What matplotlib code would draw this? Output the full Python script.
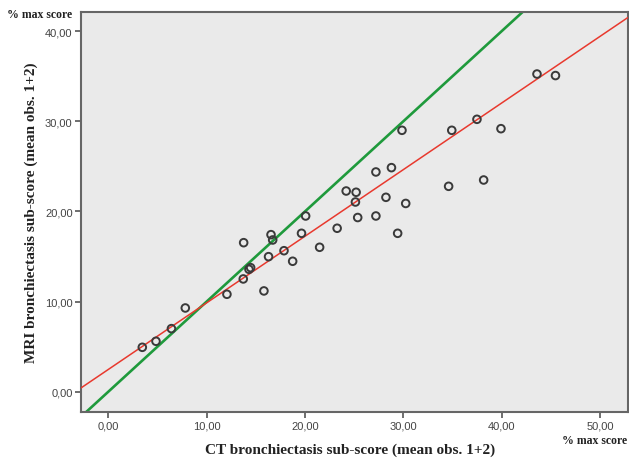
import numpy as np
import matplotlib
matplotlib.use("Agg")
import matplotlib.pyplot as plt

# === Data ===
ct_score = [3.46, 4.85, 6.42, 7.83, 12.06, 13.76, 13.72, 14.30, 14.47, 15.82,
            16.29, 16.54, 16.71, 17.86, 18.74, 19.64, 20.06, 21.48, 23.26, 24.18,
            25.19, 25.12, 25.35, 27.20, 27.20, 28.78, 28.22, 30.23, 29.41, 29.85,
            34.91, 34.59, 37.47, 39.91, 38.15, 43.57, 45.45]
mri_score = [4.93, 5.60, 7.00, 9.29, 10.81, 16.53, 12.51, 13.58, 13.76, 11.18,
             14.98, 17.42, 16.83, 15.64, 14.47, 17.57, 19.49, 16.02, 18.13, 22.26,
             22.12, 21.04, 19.32, 24.37, 19.49, 24.85, 21.56, 20.88, 17.57, 28.99,
             28.99, 22.78, 30.21, 29.17, 23.48, 35.23, 35.06]
x_ticks = [0, 10, 20, 30, 40, 50]
y_ticks = [0, 10, 20, 30, 40]

# fitted line as drawn in the reference, and line of identity
fit_intercept = 2.47
fit_slope = 0.739

xlim = (-2.77, 52.82)
ylim = (-2.21, 42.14)

fig = plt.figure(figsize=(6.29, 4.60), dpi=100)
ax = fig.add_axes([81 / 629, 47.3 / 460, 547 / 629, 400 / 460])
ax.set_facecolor("#eaeaea")

xx = np.array(xlim)
ax.plot(xx, xx, color="#1f9a3c", lw=1.9, zorder=2)
ax.plot(xx, fit_intercept + fit_slope * xx, color="#e8392e", lw=1.1, zorder=3)
ax.scatter(ct_score, mri_score, s=30, facecolors="none", edgecolors="#3a3a3a",
           linewidths=1.4, zorder=4)

ax.set_xlim(xlim)
ax.set_ylim(ylim)
ax.set_xticks(x_ticks)
ax.set_yticks(y_ticks)
ax.set_xticklabels([f"{v:.2f}".replace(".", ",") for v in x_ticks])
ax.set_yticklabels([f"{v:.2f}".replace(".", ",") for v in y_ticks])
ax.tick_params(direction="out", length=4, width=1.2, color="#555555",
               labelsize=8, labelcolor="#444444", pad=2)
for lab in ax.get_xticklabels() + ax.get_yticklabels():
    lab.set_family("Liberation Sans")
for sp in ax.spines.values():
    sp.set_color("#666666")
    sp.set_linewidth(1.5)

serif = dict(family="Liberation Serif", fontweight="bold", color="#222222")
fig.text(350 / 629, 1 - 450 / 460, "CT bronchiectasis sub-score (mean obs. 1+2)",
         ha="center", va="center", fontsize=11, **serif)
fig.text(31 / 629, 1 - 213 / 460, "MRI bronchiectasis sub-score (mean obs. 1+2)",
         ha="center", va="center", rotation=90, fontsize=11, **serif)
fig.text(7 / 629, 1 - 15 / 460, "% max score", ha="left", va="center",
         fontsize=8.5, **serif)
fig.text(627 / 629, 1 - 441 / 460, "% max score", ha="right", va="center",
         fontsize=8.5, **serif)

fig.savefig("out.png", dpi=100)
